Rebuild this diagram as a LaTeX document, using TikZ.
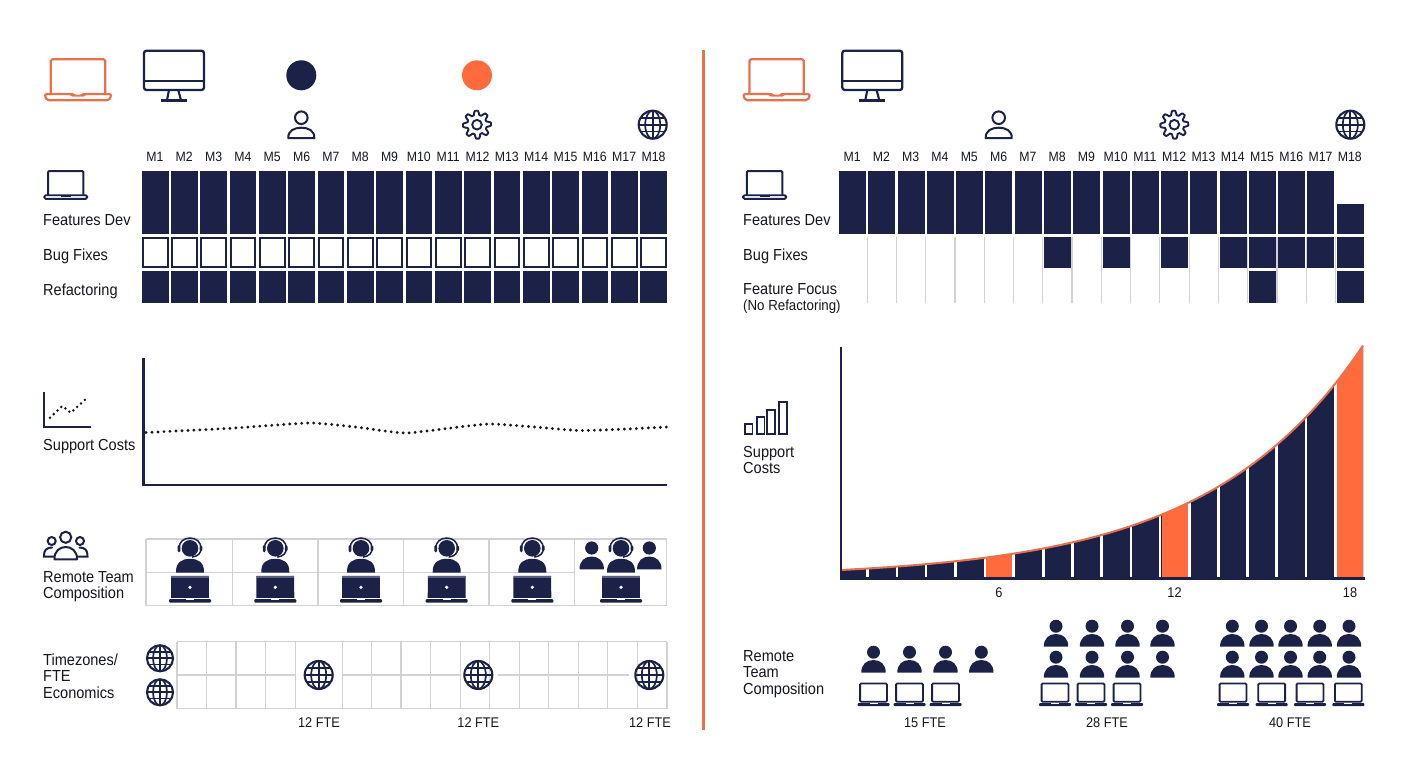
\documentclass[tikz,border=0pt]{standalone}
\usepackage{fontspec}
\setmainfont{Liberation Sans}[FakeStretch=0.91]
\definecolor{navy}{HTML}{1C2148}
\definecolor{ink}{HTML}{16171F}
\definecolor{orng}{HTML}{FF6B3D}
\definecolor{orngl}{HTML}{E8714C}
\definecolor{gridc}{HTML}{D2D2D6}
\tikzset{
  lbl/.style={font=\fontsize{16}{16.6}\selectfont,text=ink,inner sep=0pt,anchor=base west},
  lblm/.style={font=\fontsize{16}{16.6}\selectfont,text=ink,inner sep=0pt,anchor=north west,align=left},
  mlbl/.style={font=\fontsize{13.5}{15}\selectfont,text=ink,inner sep=0pt},
  ftel/.style={font=\fontsize{14}{15}\selectfont,text=ink,inner sep=0pt},
  gridl/.style={draw=gridc,line width=1.2pt},
  globe/.pic={
    \draw[navy,line width=2.1pt] (0,0) circle (14);
    \draw[navy,line width=1.7pt] (0,-14) -- (0,14) (-14,0) -- (14,0) (-12.2,-6.8) -- (12.2,-6.8) (-12.2,6.8) -- (12.2,6.8);
    \draw[navy,line width=1.7pt] (0,0) ellipse (7.5 and 14);
  },
  gear/.pic={
    \draw[navy,line width=1.9pt,line join=round] plot[domain=0:360,samples=217,smooth] ({(11.9+2.1*max(-1,min(1,1.5*cos(8*\x+22.5))))*cos(\x)},{(11.9+2.1*max(-1,min(1,1.5*cos(8*\x+22.5))))*sin(\x)}) -- cycle;
    \draw[navy,line width=1.9pt] (0,0) circle (4.8);
  },
  personout/.pic={
    \draw[navy,line width=2pt] (0,-7) circle (6.3);
    \draw[navy,line width=2pt,line join=round] (-13,13.5) .. controls (-13.5,6) and (-7,3) .. (0,3) .. controls (7,3) and (13.5,6) .. (13,13.5) -- cycle;
  },
  personfill/.pic={
    \fill[navy] (0,-7.8) circle (6.5);
    \fill[navy] (-12.2,12.7) .. controls (-12.4,4.5) and (-7,0) .. (0,0) .. controls (7,0) and (12.4,4.5) .. (12.2,12.7) -- cycle;
  },
  laptopbig/.pic={
    \draw[orngl,line width=2.2pt,line join=round,rounded corners=1.5pt] (-27.2,0) -- (-27.2,-34.7) -- (27.2,-34.7) -- (27.2,0);
    \draw[orngl,line width=2.2pt,line join=round,rounded corners=2pt] (-33,0) -- (-6,0) -- (-5,1.6) -- (5,1.6) -- (6,0) -- (33,0) -- (33,3) -- (31,6.3) -- (-31,6.3) -- (-33,3) -- cycle;
  },
  laptopbar/.pic={
    \draw[navy,line width=2pt,rounded corners=1.2pt] (-17.7,0) -- (-17.7,-24) -- (17.7,-24) -- (17.7,0);
    \draw[navy,line width=1.9pt,fill=white,rounded corners=1.5pt] (-21.5,0.2) rectangle (21.5,3.8);
    \draw[navy,line width=1.5pt] (-5,1) -- (5,1);
  },
  laptopsm/.pic={
    \draw[navy,line width=1.8pt,rounded corners=1pt] (-13.4,0) -- (-13.4,-18.2) -- (13.4,-18.2) -- (13.4,0) -- cycle;
    \fill[navy,rounded corners=1pt] (-16,1.3) rectangle (16,4.5);
    \fill[white] (-4,1.4) rectangle (4,2.7);
  },
  monitor/.pic={
    \draw[navy,line width=2.3pt,rounded corners=2.5pt] (0,0) rectangle (60,39.3);
    \draw[navy,line width=2.3pt] (0,30.3) -- (60,30.3);
    \draw[navy,line width=2.1pt] (25,39.3) -- (23,49.6) (34.3,39.3) -- (37,49.6);
    \draw[navy,line width=2.3pt] (16.7,49.8) -- (43,49.8);
  },
  headset/.pic={
    \fill[navy] (0,0) circle (8.3);
    \draw[navy,line width=1.5pt] (-11,0) .. controls (-11,-6.5) and (-6,-10.3) .. (0,-10.3) .. controls (6,-10.3) and (11,-6.5) .. (11,0) .. controls (11,5) and (8,8) .. (2,8.8);
    \fill[navy,rounded corners=1.4pt] (-12.4,-3.5) rectangle (-9.6,4);
    \fill[navy,rounded corners=1.4pt] (9.6,-3) rectangle (12.4,3);
    \fill[navy] (-14,24.3) .. controls (-14.5,14) and (-8,10.5) .. (0,10.5) .. controls (8,10.5) and (14.5,14) .. (14,24.3) -- cycle;
    \fill[navy] (-18.8,27.5) -- (18.8,27.5) -- (19,49.5) -- (-19,49.5) -- cycle;
    \fill[navy!72] (-18.8,27.5) rectangle (18.8,29.3);
    \fill[white] (0,39) circle (1.8);
    \fill[navy,rounded corners=1pt] (-21,50.8) rectangle (21,54.4);
    \fill[white] (-4,50.8) rectangle (4,52);
  },
}
\begin{document}
\begin{tikzpicture}[x=1pt,y=-1pt]
\useasboundingbox (0,0) rectangle (1408,768);
\fill[white] (0,0) rectangle (1408,768);
% divider
\draw[orngl,line width=2.4pt] (703.5,50) -- (703.5,730);

% ---------- top icons
\pic at (78,94) {laptopbig};
\pic at (776.6,94) {laptopbig};
\pic at (144,50.7) {monitor};
\pic at (842.3,50.7) {monitor};
\fill[navy] (301.3,75.3) circle (15);
\fill[orng] (477,75.3) circle (15);
\pic at (301.3,124.7) {personout};
\pic at (998.7,124.7) {personout};
\pic at (477,124.7) {gear};
\pic at (1174.3,124.7) {gear};
\pic at (652.7,124.7) {globe};
\pic at (1350.3,124.7) {globe};

% ---------- month labels
\foreach \i in {1,...,18}{
  \node[mlbl] (lm\i) at ({154.9+(\i-1)*29.33},157) {M\i};
  \node[mlbl] (rm\i) at ({852.2+(\i-1)*29.27},157) {M\i};
}

% ---------- left grid
\foreach \i in {0,...,17}{
  \pgfmathsetmacro{\xa}{141.7+\i*29.33}
  \fill[navy] (\xa,170.7) rectangle ++(26.8,63.3);
  \draw[navy,line width=2pt,fill=white] ({\xa+1},238.3) rectangle ++(24.8,28.2);
  \fill[navy] (\xa,270.7) rectangle ++(26.8,32.6);
}
\pic at (65.7,195) {laptopbar};
\node[lbl] (lfd) at (43,225) {Features Dev};
\node[lbl] (lbf) at (43,260) {Bug Fixes};
\node[lbl] (lrf) at (43,295) {Refactoring};

% ---------- right grid
\foreach \i in {1,...,17}{
  \pgfmathsetmacro{\xa}{839.1+\i*29.27-1.2}
  \draw[gridc,line width=1.2pt] (\xa,237) -- (\xa,303);
}
\foreach \i in {0,...,16}{
  \pgfmathsetmacro{\xa}{839.1+\i*29.27}
  \fill[navy] (\xa,170.7) rectangle ++(27,63.3);
}
\fill[navy] (1336.7,204) rectangle ++(27,30);
\foreach \i in {7,9,11,13,14,15,16,17}{
  \pgfmathsetmacro{\xa}{839.1+\i*29.27}
  \fill[navy] (\xa,237.3) rectangle ++(27,30.7);
}
\foreach \i in {14,17}{
  \pgfmathsetmacro{\xa}{839.1+\i*29.27}
  \fill[navy] (\xa,270.7) rectangle ++(27,32.6);
}
\pic at (764.6,195) {laptopbar};
\node[lbl] (rfd) at (743,225) {Features Dev};
\node[lbl] (rbf) at (743,260) {Bug Fixes};
\node[lblm] (rff) at (743,283.4) {Feature Focus\\[-1pt]{\fontsize{14.6}{15}\selectfont (No Refactoring)}};

% ---------- left support chart
\draw[navy,line width=2.5pt] (143.5,358) -- (143.5,485) -- (667,485);
\draw[ink,line width=3.2pt,line cap=round,dash pattern=on 0pt off 6pt] plot[smooth,tension=.3] coordinates {(146,432.5) (230,428.3) (310,423) (360,427.5) (407,433) (490,424) (580,430.5) (667,427)};
\draw[navy,line width=2.2pt] (43.7,391.7) -- (43.7,426.7) -- (91,426.7);
\draw[ink,line width=2.8pt,line cap=round,dash pattern=on 0pt off 5.2pt] (50,417.7) -- (62.3,406) -- (70.7,412.7) -- (86.7,398.3);
\node[lbl] (lsc) at (43,450.7) {Support Costs};

% ---------- right support chart
\begin{scope}
  \clip plot[domain=0:522,samples=80] ({841+\x},{578-8*exp(0.00645*\x)}) -- (1363,579) -- (841,579) -- cycle;
  \fill[navy] (841,340) rectangle (1364,579);
  \fill[orng] (985,340) rectangle (1013,579);
  \fill[orng] (1161.5,340) rectangle (1188,579);
  \fill[orng] (1337,340) rectangle (1364,579);
  \foreach \g in {867.3,897,926,955.3,985,1013.5,1043.3,1072.5,1101.5,1131,1160,1189.3,1218.3,1247.3,1276.7,1306,1335.7}{
    \fill[white] ({\g-1.4},340) rectangle ({\g+1.4},576.5);
  }
\end{scope}
\draw[orngl,line width=2pt] plot[domain=0:522,samples=80] ({841+\x},{578-8*exp(0.00645*\x)});
\draw[navy,line width=2.5pt] (841,347) -- (841,578.3) -- (1365,578.3);
\node[ftel] (t6) at (999,593) {6};
\node[ftel] (t12) at (1174.5,593) {12};
\node[ftel] (t18) at (1350,593) {18};
\foreach \xa/\ya in {744.7/424.3,756.7/417.3,767.3/410,779.3/401.7}{
  \draw[navy,line width=1.8pt] (\xa,\ya) rectangle ({\xa+7.8},434);
}
\node[lblm] (rsc) at (743,445.7) {Support\\Costs};

% ---------- left team
\foreach \xa in {146,232.3,318,403.5,489,574.3,666.7}{
  \draw[gridl] (\xa,539) -- (\xa,605.7);
}
\draw[gridl] (146,539) -- (666.7,539) (146,605.7) -- (666.7,605.7) (146,572.3) -- (574.3,572.3);
\foreach \c in {190,275.3,361,446.7,532.3,621}{
  \pic at (\c,548.3) {headset};
}
\fill[navy] (591.7,548) circle (6.6);
\fill[navy] (579.5,569.3) .. controls (579.3,561) and (585,556.5) .. (591.7,556.5) .. controls (598.4,556.5) and (604.1,561) .. (603.9,569.3) -- cycle;
\fill[navy] (649.3,548) circle (6.6);
\fill[navy] (637.1,569.3) .. controls (636.9,561) and (642.6,556.5) .. (649.3,556.5) .. controls (656,556.5) and (661.7,561) .. (661.5,569.3) -- cycle;
% team icon
\draw[navy,line width=2pt] (65.7,537.3) circle (5.6) (51.7,541) circle (4) (80,541) circle (4);
\draw[navy,line width=2pt,line join=round] (54.5,559.3) .. controls (54,551) and (60,547) .. (65.7,547) .. controls (71.4,547) and (77.4,551) .. (77,559.3) -- cycle;
\draw[navy,line width=2pt,line cap=round] (54,556.5) -- (44,556.5) .. controls (43.5,550) and (47,547.5) .. (52,547.5)
  (77.5,556.5) -- (87.5,556.5) .. controls (88,550) and (84.5,547.5) .. (79.5,547.5);
\node[lblm] (ltc) at (43,571) {Remote Team\\Composition};

% ---------- left timezones
\foreach \xa in {177,206.7,236,265.7,295.3,342.5,371.7,401,430.7,460.3,489.5,519.3,548.7,578.3,607.7,637.3,667}{
  \draw[gridl] (\xa,641.7) -- (\xa,708.7);
}
\draw[gridl] (177,641.7) -- (667,641.7) (177,708.7) -- (667,708.7);
\draw[gridl] (177,675) -- (295.3,675) (342.5,675) -- (460.3,675) (497.5,675) -- (629,675);
\pic at (318.7,675) {globe};
\pic at (478.3,675) {globe};
\pic at (649.3,675) {globe};
\pic[scale=.93] at (160,658.3) {globe};
\pic[scale=.93] at (160,692.3) {globe};
\node[lblm] (ltz) at (43,653.4) {Timezones/\\FTE\\Economics};
\node[ftel] (fa) at (319,723) {12 FTE};
\node[ftel] (fb) at (478.3,723) {12 FTE};
\node[ftel] (fc) at (650,723) {12 FTE};

% ---------- right team
\node[lblm] (rtc) at (743,650) {Remote\\Team\\Composition};
\foreach \c in {873.5,909.5,945.5,981.3}{ \pic at (\c,660) {personfill}; }
\foreach \c in {873.5,909.5,945.5}{ \pic at (\c,701.7) {laptopsm}; }
\foreach \c in {1056,1092,1127.5,1162.5}{
  \pic at (\c,634) {personfill};
  \pic at (\c,665) {personfill};
}
\foreach \c in {1055,1091,1127}{ \pic at (\c,701.7) {laptopsm}; }
\foreach \c in {1232.3,1261.5,1290.5,1319.7,1349}{
  \pic at (\c,634) {personfill};
  \pic at (\c,665) {personfill};
}
\foreach \c in {1233,1271.7,1310,1348.3}{ \pic at (\c,701.7) {laptopsm}; }
\node[ftel] (r15) at (925,723) {15 FTE};
\node[ftel] (r28) at (1107,723) {28 FTE};
\node[ftel] (r40) at (1290,723) {40 FTE};
\end{tikzpicture}
\end{document}
